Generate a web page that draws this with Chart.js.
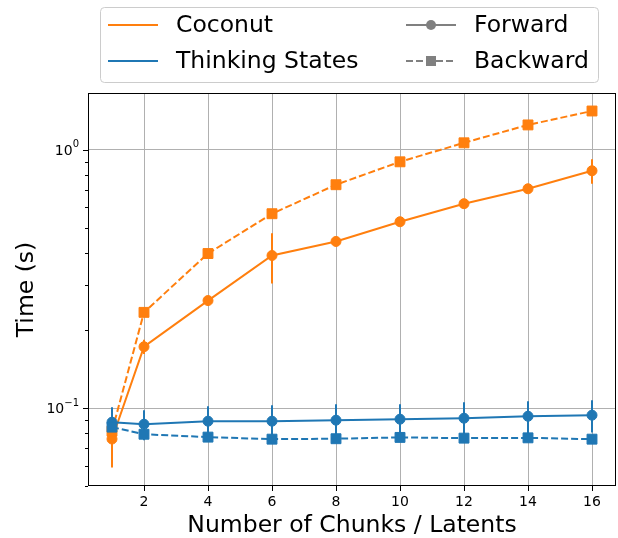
<!DOCTYPE html>
<html>
<head>
<meta charset="utf-8">
<script src="https://cdn.jsdelivr.net/npm/chart.js@4.4.0/dist/chart.umd.min.js"></script>
<style>
	html, body { margin: 0; padding: 0; background: #fff; }
	canvas { display: block; }
</style>
</head>
<body>
<canvas id="chart" width="618" height="538"></canvas>
<script>
// Data
const chunks = [1, 2, 4, 6, 8, 10, 12, 14, 16];
const xTicks = [2, 4, 6, 8, 10, 12, 14, 16];
const yMajorTicks = [0.1, 1];
const yMinorTicks = [0.05, 0.06, 0.07, 0.08, 0.09, 0.2, 0.3, 0.4, 0.5, 0.6, 0.7, 0.8, 0.9];

const coconutForward = [0.076, 0.173, 0.261, 0.39, 0.442, 0.527, 0.619, 0.707, 0.83];
const coconutForwardErr = [0.017, 0.011, 0.004, 0.086, 0.004, 0.005, 0.005, 0.006, 0.09];
const coconutBackward = [0.0815, 0.235, 0.397, 0.566, 0.733, 0.899, 1.065, 1.249, 1.414];

const thinkingForward = [0.0883, 0.0867, 0.0891, 0.0891, 0.0899, 0.0907, 0.0915, 0.0931, 0.094];
const thinkingForwardErr = [0.0126, 0.0115, 0.0127, 0.0136, 0.0137, 0.0129, 0.014, 0.0133, 0.0134];
const thinkingBackward = [0.0845, 0.0793, 0.0773, 0.0759, 0.0762, 0.0771, 0.0766, 0.0768, 0.0759];

const ORANGE = "#ff7f0e";
const BLUE = "#1f77b4";
const GRAY = "#808080";
const FONT = "DejaVu Sans";

const toPoints = (ys) => chunks.map((x, i) => ({ x: x, y: ys[i] }));

function series(label, ys, color, dashed, errors, order) {
	return {
		label: label,
		data: toPoints(ys),
		errors: errors,
		borderColor: color,
		backgroundColor: color,
		borderWidth: 2,
		borderDash: dashed ? [7, 3] : [],
		pointStyle: dashed ? "rect" : "circle",
		pointRadius: dashed ? 7 : 5,
		pointBorderWidth: 1,
		pointBorderColor: color,
		pointBackgroundColor: color,
		tension: 0,
		order: order,
	};
}

// Vertical error bars under the markers
const errorBars = {
	id: "errorBars",
	beforeDatasetsDraw(chart) {
		const ctx = chart.ctx;
		const yScale = chart.scales.y;
		const xScale = chart.scales.x;
		chart.data.datasets.forEach((ds) => {
			if (!ds.errors) return;
			ctx.save();
			ctx.strokeStyle = ds.borderColor;
			ctx.lineWidth = 2;
			ds.data.forEach((p, i) => {
				const px = xScale.getPixelForValue(p.x);
				ctx.beginPath();
				ctx.moveTo(px, yScale.getPixelForValue(p.y - ds.errors[i]));
				ctx.lineTo(px, yScale.getPixelForValue(p.y + ds.errors[i]));
				ctx.stroke();
			});
			ctx.restore();
		});
	},
};

// Frame, log tick marks with superscript labels, axis titles, legend
const decorations = {
	id: "decorations",
	afterDraw(chart) {
		const ctx = chart.ctx;
		const area = chart.chartArea;
		const yScale = chart.scales.y;
		ctx.save();

		// frame
		ctx.strokeStyle = "#000";
		ctx.lineWidth = 1;
		ctx.strokeRect(Math.round(area.left) + 0.5, Math.round(area.top) + 0.5,
			Math.round(area.right - area.left) - 1, Math.round(area.bottom - area.top) - 1);

		// y tick marks
		const tick = (v, len) => {
			const py = Math.round(yScale.getPixelForValue(v)) + 0.5;
			ctx.beginPath();
			ctx.moveTo(area.left, py);
			ctx.lineTo(area.left - len, py);
			ctx.stroke();
		};
		yMinorTicks.forEach((v) => tick(v, 3));
		yMajorTicks.forEach((v) => tick(v, 5));

		// y tick labels 10^n
		ctx.fillStyle = "#000";
		ctx.textBaseline = "middle";
		yMajorTicks.forEach((v) => {
			const py = yScale.getPixelForValue(v);
			const exp = String(Math.round(Math.log10(v))).replace("-", "\u2212");
			ctx.font = "10px " + FONT;
			const ew = ctx.measureText(exp).width;
			const right = area.left - 9;
			ctx.textAlign = "right";
			ctx.fillText(exp, right, py - 5);
			ctx.font = "14px " + FONT;
			ctx.fillText("10", right - ew, py + 1);
		});

		// axis titles
		ctx.font = "23.5px " + FONT;
		ctx.textAlign = "center";
		ctx.fillText("Number of Chunks / Latents", (area.left + area.right) / 2, 526);
		ctx.save();
		ctx.translate(27, (area.top + area.bottom) / 2);
		ctx.rotate(-Math.PI / 2);
		ctx.fillText("Time (s)", 0, 0);
		ctx.restore();

		// legend box
		ctx.fillStyle = "rgba(255,255,255,0.8)";
		ctx.strokeStyle = "#cccccc";
		ctx.lineWidth = 1;
		ctx.beginPath();
		ctx.roundRect(100.5, 7.5, 498, 75, 4);
		ctx.fill();
		ctx.stroke();

		const entries = [
			{ label: "Coconut", color: ORANGE, x: 108, y: 25 },
			{ label: "Thinking States", color: BLUE, x: 108, y: 61 },
			{ label: "Forward", color: GRAY, x: 406, y: 25, marker: "circle" },
			{ label: "Backward", color: GRAY, x: 406, y: 61, marker: "rect", dashed: true },
		];
		entries.forEach((e) => {
			ctx.strokeStyle = e.color;
			ctx.fillStyle = e.color;
			ctx.lineWidth = 2;
			ctx.setLineDash(e.dashed ? [7, 3] : []);
			ctx.beginPath();
			ctx.moveTo(e.x, e.y);
			ctx.lineTo(e.x + 50, e.y);
			ctx.stroke();
			ctx.setLineDash([]);
			if (e.marker === "circle") {
				ctx.beginPath();
				ctx.arc(e.x + 25, e.y, 5, 0, Math.PI * 2);
				ctx.fill();
			} else if (e.marker === "rect") {
				ctx.fillRect(e.x + 20, e.y - 5, 10, 10);
			}
			ctx.fillStyle = "#000";
			ctx.textAlign = "left";
			ctx.font = "23.5px " + FONT;
			ctx.fillText(e.label, e.x + 68, e.y + 1);
		});

		ctx.restore();
	},
};

new Chart(document.getElementById("chart"), {
	type: "line",
	data: {
		datasets: [
			series("Coconut Forward", coconutForward, ORANGE, false, coconutForwardErr, 3),
			series("Coconut Backward", coconutBackward, ORANGE, true, null, 2),
			series("Thinking States Forward", thinkingForward, BLUE, false, thinkingForwardErr, 1),
			series("Thinking States Backward", thinkingBackward, BLUE, true, null, 0),
		],
	},
	options: {
		responsive: false,
		animation: false,
		devicePixelRatio: 1,
		layout: {
			autoPadding: false,
			padding: { top: 93, right: 2, bottom: 0, left: 0 },
		},
		plugins: {
			legend: { display: false },
			tooltip: { enabled: false },
		},
		scales: {
			x: {
				type: "linear",
				min: 0.25,
				max: 16.75,
				afterBuildTicks: (s) => {
					s.ticks = xTicks.map((v) => ({ value: v }));
				},
				afterFit: (s) => {
					s.height = 52;
					s.paddingLeft = 0;
					s.paddingRight = 0;
				},
				ticks: {
					color: "#000",
					font: { family: FONT, size: 14 },
					padding: 3,
					maxRotation: 0,
				},
				grid: {
					color: "#b0b0b0",
					lineWidth: 1,
					tickColor: "#000",
					tickLength: 5,
				},
				border: { display: false },
			},
			y: {
				type: "logarithmic",
				min: 0.05,
				max: 1.66,
				afterBuildTicks: (s) => {
					s.ticks = yMinorTicks.concat(yMajorTicks).map((v) => ({ value: v }));
				},
				afterFit: (s) => {
					s.width = 88;
					s.paddingTop = 0;
					s.paddingBottom = 0;
				},
				ticks: { display: false },
				grid: {
					color: (c) => (yMajorTicks.includes(c.tick.value) ? "#b0b0b0" : "rgba(0,0,0,0)"),
					lineWidth: 1,
					drawTicks: false,
				},
				border: { display: false },
			},
		},
	},
	plugins: [errorBars, decorations],
});
</script>
</body>
</html>
